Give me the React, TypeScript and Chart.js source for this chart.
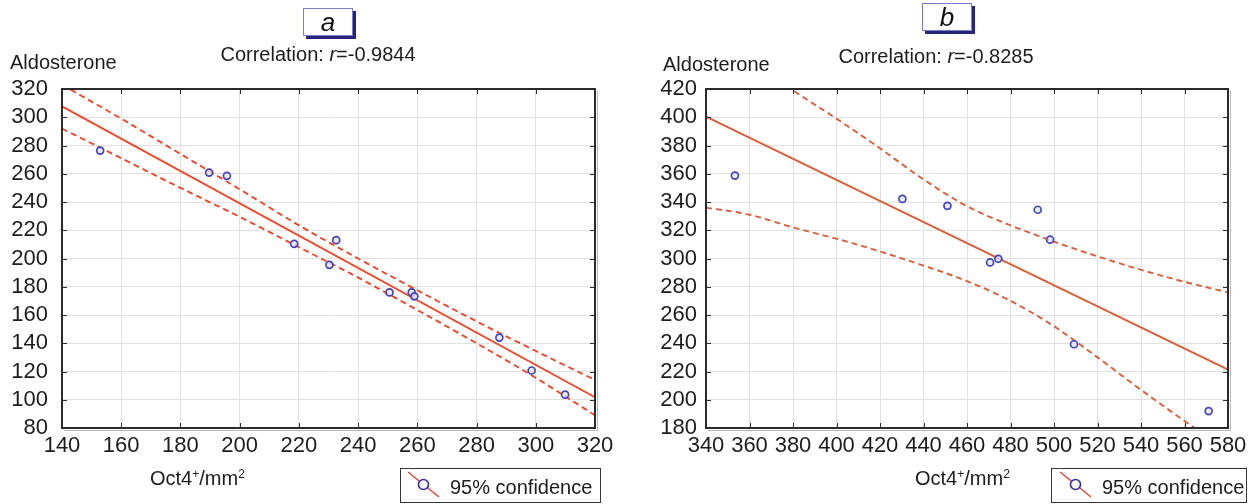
import React, { useEffect, useRef } from 'react';
import { Chart, registerables } from 'chart.js';

Chart.register(...registerables);

const FONT = '"Liberation Sans", Arial, Helvetica, sans-serif';

// ---------- Panel a ----------
const aOct4 = [152.9, 189.7, 195.7, 218.4, 230.3, 232.6, 250.6, 258.1, 259.0, 287.7, 298.6, 309.9];
const aAldo = [276.4, 260.8, 258.5, 210.4, 195.5, 213.0, 176.0, 176.0, 173.2, 144.0, 120.7, 103.6];
const aFitX = [140, 320];
const aFitY = [307.7, 101.8];
const aBandX = [140, 160, 180, 200, 220, 240, 260, 280, 300, 320];
const aUpper = [323, 299, 274, 249, 223.5, 200, 177.5, 155.5, 134.5, 114];
const aLower = [292, 271, 250, 229.5, 208, 186.5, 163.5, 140, 115.5, 89];
const aXRange = [140, 320];
const aYRange = [80, 320];

// ---------- Panel b ----------
const bOct4 = [353.3, 430.3, 451.0, 470.6, 474.4, 492.5, 498.2, 509.2, 571.1];
const bAldo = [358.7, 342.2, 337.3, 297.2, 299.8, 334.5, 313.3, 239.3, 192.0];
const bFitX = [340, 580];
const bFitY = [400.4, 221.3];
const bBandX = [340, 360, 380, 400, 420, 440, 460, 480, 500, 520, 540, 560, 580];
const bUpper = [465, 441, 419, 399, 378, 356, 337, 323.5, 312, 301.5, 292, 283.5, 276];
const bLower = [336, 331, 322, 314, 305, 295, 284, 270, 252, 230, 207, 185, 164];
const bXRange = [340, 580];
const bYRange = [180, 420];

const TICK_STEP = 20;

const pts = (xs: number[], ys: number[]) => xs.map((x, i) => ({ x, y: ys[i] }));

const framePlugin = {
  id: 'frameTicks',
  afterDraw(chart: any) {
    const { ctx, chartArea, scales } = chart;
    const { left, right, top, bottom } = chartArea;
    const xs = scales.x;
    const ys = scales.y;
    ctx.save();
    ctx.strokeStyle = '#2b2b2b';
    ctx.lineWidth = 1;
    ctx.beginPath();
    xs.ticks.forEach((t: any) => {
      const px = Math.round(xs.getPixelForValue(t.value)) + 0.5;
      ctx.moveTo(px, bottom);
      ctx.lineTo(px, bottom - 5);
      ctx.moveTo(px, top);
      ctx.lineTo(px, top + 5);
    });
    ys.ticks.forEach((t: any) => {
      const py = Math.round(ys.getPixelForValue(t.value)) + 0.5;
      ctx.moveTo(left, py);
      ctx.lineTo(left + 5, py);
      ctx.moveTo(right, py);
      ctx.lineTo(right - 5, py);
    });
    ctx.stroke();
    ctx.lineWidth = 2;
    ctx.strokeStyle = '#2a2a2a';
    ctx.strokeRect(left, top, right - left, bottom - top);
    ctx.lineWidth = 1;
    ctx.strokeStyle = 'rgba(0,0,0,0.28)';
    ctx.beginPath();
    ctx.moveTo(right + 2.5, top + 2);
    ctx.lineTo(right + 2.5, bottom + 2.5);
    ctx.lineTo(left + 2, bottom + 2.5);
    ctx.stroke();
    ctx.restore();
  },
};

type PanelProps = {
  left: number;
  width: number;
  yAxisWidth: number;
  rightPad: number;
  labelGap: number;
  xs: number[];
  ys: number[];
  fitX: number[];
  fitY: number[];
  bandX: number[];
  upper: number[];
  lower: number[];
  xRange: number[];
  yRange: number[];
  lineColor: string;
};

function Panel(p: PanelProps) {
  const ref = useRef<HTMLCanvasElement | null>(null);
  useEffect(() => {
    if (!ref.current) return;
    const chart = new Chart(ref.current, {
      type: 'scatter',
      data: {
        datasets: [
          {
            label: 'data',
            data: pts(p.xs, p.ys),
            showLine: false,
            pointStyle: 'circle',
            pointRadius: 3.5,
            pointBorderWidth: 1.7,
            pointBorderColor: '#4444b8',
            pointBackgroundColor: 'rgba(225,225,255,0.7)',
          },
          {
            label: 'fit',
            data: pts(p.fitX, p.fitY),
            showLine: true,
            pointRadius: 0,
            borderColor: p.lineColor,
            borderWidth: 1.9,
          },
          {
            label: 'upper',
            data: pts(p.bandX, p.upper),
            showLine: true,
            pointRadius: 0,
            borderColor: p.lineColor,
            borderWidth: 1.9,
            borderDash: [6, 4],
            cubicInterpolationMode: 'monotone',
          },
          {
            label: 'lower',
            data: pts(p.bandX, p.lower),
            showLine: true,
            pointRadius: 0,
            borderColor: p.lineColor,
            borderWidth: 1.9,
            borderDash: [6, 4],
            cubicInterpolationMode: 'monotone',
          },
        ] as any,
      },
      options: {
        animation: false,
        responsive: false,
        events: [],
        layout: { padding: { left: 0, right: p.rightPad, top: 89, bottom: 0 } },
        plugins: { legend: { display: false }, tooltip: { enabled: false }, title: { display: false } },
        scales: {
          x: {
            type: 'linear',
            min: p.xRange[0],
            max: p.xRange[1],
            ticks: {
              stepSize: TICK_STEP,
              autoSkip: false,
              maxRotation: 0,
              minRotation: 0,
              padding: 5,
              color: '#1c1c1c',
              font: { family: FONT, size: 22 },
            },
            grid: { color: '#e0e0e0', lineWidth: 1, drawTicks: false },
            border: { display: false },
            afterFit: (s: any) => {
              s.height = 76;
            },
          },
          y: {
            type: 'linear',
            min: p.yRange[0],
            max: p.yRange[1],
            ticks: {
              stepSize: TICK_STEP,
              autoSkip: false,
              padding: p.labelGap,
              color: '#1c1c1c',
              font: { family: FONT, size: 22 },
            },
            grid: { color: '#e0e0e0', lineWidth: 1, drawTicks: false },
            border: { display: false },
            afterFit: (s: any) => {
              s.width = p.yAxisWidth;
            },
          },
        },
      } as any,
      plugins: [framePlugin],
    });
    return () => chart.destroy();
  }, []);
  return (
    <canvas
      ref={ref}
      width={p.width}
      height={504}
      style={{ position: 'absolute', left: p.left, top: 0, width: p.width, height: 504 }}
    />
  );
}

const txt = (extra: React.CSSProperties): React.CSSProperties => ({
  position: 'absolute',
  fontSize: 20,
  lineHeight: '20px',
  whiteSpace: 'nowrap',
  color: '#1c1c1c',
  ...extra,
});

function LetterBox({ left, top, letter }: { left: number; top: number; letter: string }) {
  return (
    <div
      style={{
        position: 'absolute',
        left,
        top,
        width: 50,
        height: 28,
        boxSizing: 'border-box',
        border: '1px solid #7c7cc8',
        boxShadow: '3px 3px 0 #25257c',
        background: '#fff',
        textAlign: 'center',
        fontStyle: 'italic',
        fontSize: 26,
        lineHeight: '26px',
        color: '#111',
      }}
    >
      {letter}
    </div>
  );
}

function LegendBox({ left, width, lineX }: { left: number; width: number; lineX: number }) {
  return (
    <div
      style={{
        position: 'absolute',
        left,
        top: 468,
        width,
        height: 35,
        boxSizing: 'border-box',
        border: '1px solid #333',
        background: '#fff',
      }}
    >
      <svg style={{ position: 'absolute', left: lineX, top: 2 }} width={32} height={28}>
        <line x1={0} y1={1} x2={31} y2={26} stroke="#e8322a" strokeWidth={1.2} />
        <circle cx={15.5} cy={13.5} r={5} fill="#fff" stroke="#2c2ca6" strokeWidth={1.6} />
      </svg>
      <span style={txt({ left: lineX + 42, top: 8 })}>95% confidence</span>
    </div>
  );
}

function AxisTitle({ left }: { left: number }) {
  return (
    <div style={txt({ left, top: 468 })}>
      Oct4<sup style={{ fontSize: 12, verticalAlign: 'top', lineHeight: '12px' }}>+</sup>/mm
      <sup style={{ fontSize: 12, verticalAlign: 'top', lineHeight: '12px' }}>2</sup>
    </div>
  );
}

export default function App() {
  return (
    <div
      style={{
        position: 'fixed',
        left: 0,
        top: 0,
        width: 1253,
        height: 504,
        background: '#fff',
        fontFamily: FONT,
        overflow: 'hidden',
      }}
    >
      <Panel
        left={0}
        width={626}
        yAxisWidth={62}
        rightPad={31}
        labelGap={14}
        xs={aOct4}
        ys={aAldo}
        fitX={aFitX}
        fitY={aFitY}
        bandX={aBandX}
        upper={aUpper}
        lower={aLower}
        xRange={aXRange}
        yRange={aYRange}
        lineColor="#f0462a"
      />
      <Panel
        left={626}
        width={627}
        yAxisWidth={80}
        rightPad={25}
        labelGap={9}
        xs={bOct4}
        ys={bAldo}
        fitX={bFitX}
        fitY={bFitY}
        bandX={bBandX}
        upper={bUpper}
        lower={bLower}
        xRange={bXRange}
        yRange={bYRange}
        lineColor="#d95f3a"
      />

      <LetterBox left={303} top={8} letter="a" />
      <LetterBox left={922} top={3} letter="b" />

      <div style={txt({ left: 318, top: 44, transform: 'translateX(-50%)' })}>
        Correlation: <i>r</i>=-0.9844
      </div>
      <div style={txt({ left: 936, top: 46, transform: 'translateX(-50%)' })}>
        Correlation: <i>r</i>=-0.8285
      </div>

      <div style={txt({ left: 10, top: 52 })}>Aldosterone</div>
      <div style={txt({ left: 663, top: 54 })}>Aldosterone</div>

      <AxisTitle left={150} />
      <AxisTitle left={915} />

      <LegendBox left={400} width={201} lineX={7} />
      <LegendBox left={1051} width={196} lineX={8} />
    </div>
  );
}
